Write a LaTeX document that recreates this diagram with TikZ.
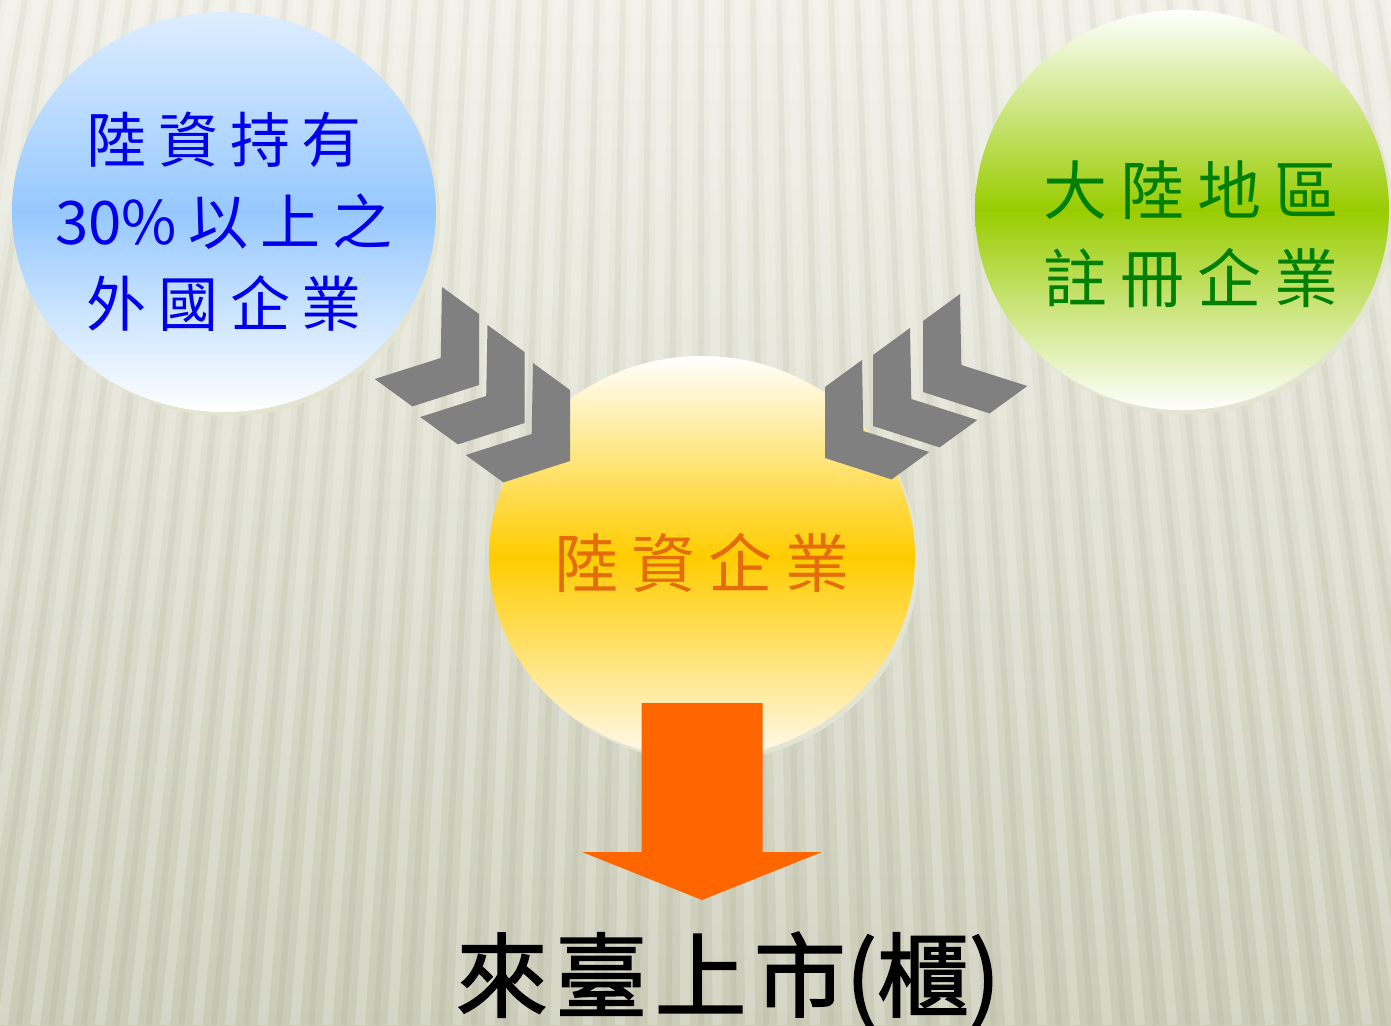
\documentclass[tikz,border=0pt]{standalone}
\usepackage{fontspec}
\newfontfamily\cjk{Noto Sans CJK TC}
\newfontfamily\cjkb[FakeBold=1.6]{Noto Sans CJK TC}
\usetikzlibrary{shapes.geometric}
\definecolor{bgtop}{RGB}{240,240,231}
\definecolor{bgbot}{RGB}{202,204,184}
\definecolor{rimcol}{RGB}{228,228,210}
\definecolor{bluetop}{RGB}{222,237,255}
\definecolor{bluemid}{RGB}{150,200,255}
\definecolor{greenmid}{RGB}{153,204,0}
\definecolor{orangemid}{RGB}{255,204,0}
\definecolor{orangebot}{RGB}{255,250,240}
\definecolor{bluetxt}{RGB}{0,0,235}
\definecolor{greentxt}{RGB}{0,128,0}
\definecolor{orangetxt}{RGB}{228,108,10}
\definecolor{chevcol}{RGB}{128,128,128}
\definecolor{arrcol}{RGB}{255,102,0}
\newcommand{\cg}{\hspace{0.2em}}
\begin{document}
\begin{tikzpicture}[x=0.5pt,y=-0.5pt,
  disc/.style={ellipse, inner sep=0pt},
  lbl/.style={align=center, font=\cjk\fontsize{32}{44}\selectfont},
  chev/.pic={\fill[chevcol] (-37,-98) -- (0,-71) -- (0,0) -- (-66.6,21.4) -- (-104.3,-6) -- (-38.3,-27) -- cycle;}]
\useasboundingbox (0,0) rectangle (1391,1025);
\fill[top color=bgtop, bottom color=bgbot] (0,0) rectangle (1391,1025);
\foreach \s in {-300,-274,...,1700}
  \draw[white, opacity=0.2, line width=5pt] (\s,0) -- ({700+(\s-700)*1.25},1025);
\foreach \s in {-287,-261,...,1700}
  \draw[black!60!olive, opacity=0.05, line width=3pt] (\s,0) -- ({700+(\s-700)*1.25},1025);
% rims
\fill[rimcol] (228,216) ellipse (212 and 200);
\fill[rimcol] (1186,214) ellipse (207 and 200);
\fill[rimcol] (706,561) ellipse (213 and 201);
% circles
\node[disc, minimum width=212pt, minimum height=200pt, top color=bluetop, bottom color=white, middle color=bluemid] (cir0) at (224,212) {};
\node[disc, minimum width=207pt, minimum height=200pt, top color=white, bottom color=white, middle color=greenmid] (cir1) at (1182,210) {};
\node[disc, minimum width=213pt, minimum height=201pt, top color=white, bottom color=orangebot, middle color=orangemid] (cir2) at (702,557) {};
\node[lbl, text=bluetxt, font=\cjk\fontsize{30}{41}\selectfont] (txt0) at ([yshift=-5pt]cir0.center) {陸\cg 資\cg 持\cg 有\\30\%\cg 以\cg 上\cg 之\\外\cg 國\cg 企\cg 業};
\node[lbl, text=greentxt] (txt1) at ([xshift=4.5pt,yshift=-12pt]cir1.center) {大\cg 陸\cg 地\cg 區\\註\cg 冊\cg 企\cg 業};
\node[lbl, text=orangetxt] (txt2) at ([yshift=-3pt]cir2.center) {陸\cg 資\cg 企\cg 業};
% chevrons
\pic at (479,385) {chev};
\pic at (524.5,423) {chev};
\pic at (570,461) {chev};
\pic[xscale=-1] at (923,392) {chev};
\pic[xscale=-1] at (873,426) {chev};
\pic[xscale=-1] at (825,458) {chev};
% down arrow
\coordinate (arr0) at (702,703);
\coordinate (arr1) at (702,900);
\fill[arrcol] ([xshift=-30.25pt]arr0) -- ([xshift=30.25pt]arr0) -- ([xshift=30.25pt,yshift=24pt]arr1) -- ([xshift=60pt,yshift=24pt]arr1) -- (arr1) -- ([xshift=-60pt,yshift=24pt]arr1) -- ([xshift=-30.25pt,yshift=24pt]arr1) -- cycle;
\node[font=\cjkb\fontsize{46}{52}\selectfont] (txt3) at (728,980) {來\hspace{0.08em}臺\hspace{0.08em}上\hspace{0.08em}市(櫃)};
\end{tikzpicture}
\end{document}
